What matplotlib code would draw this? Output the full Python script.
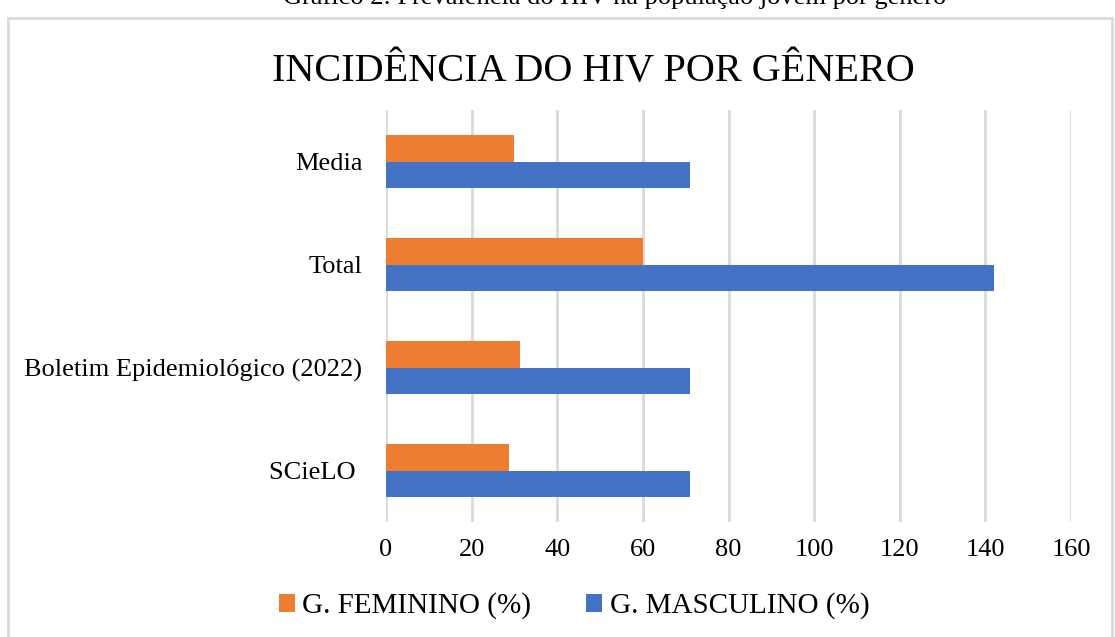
import matplotlib
matplotlib.use("Agg")
import matplotlib.pyplot as plt
import numpy as np
from matplotlib.patches import Rectangle

plt.rcParams['font.family'] = ['Liberation Serif', 'DejaVu Serif']

categories = ["SCieLO ", "Boletim Epidemiológico (2022)", "Total", "Media"]
feminino = [28.7, 31.3, 60, 30]
masculino = [71, 71, 142, 71]
xticks = [0, 20, 40, 60, 80, 100, 120, 140, 160]

orange = "#ED7D31"
blue = "#4472C4"
grid_c = "#D9D9D9"

W, H = 1115, 637
fig = plt.figure(figsize=(W / 100, H / 100), dpi=100)

# chart border
fig.patches.append(Rectangle((8 / W, -0.05), (1104 / W), 1 - 18 / H + 0.05,
                             transform=fig.transFigure, fill=False,
                             edgecolor=grid_c, linewidth=2))

# caption above the chart (cut off at the top, as in the source)
fig.text(615 / W, 1 - 4 / H, "Gráfico 2: Prevalência do HIV na população jovem por gênero",
         ha='center', va='baseline', fontsize=19)

ax = fig.add_axes([386 / W, 1 - 522 / H, 685 / W, 412 / H])
y = np.arange(len(categories))
h = 0.26
ax.barh(y + h / 2, feminino, height=h, color=orange, label="G. FEMININO (%)", zorder=3)
ax.barh(y - h / 2, masculino, height=h, color=blue, label="G. MASCULINO (%)", zorder=3)

ax.set_xlim(0, 160)
ax.set_ylim(-0.5, 3.5)
ax.set_xticks(xticks)
ax.set_yticks(y)
ax.set_yticklabels(categories)
ax.grid(axis='x', color=grid_c, linewidth=2, zorder=0)
for s in ax.spines.values():
    s.set_visible(False)
ax.tick_params(axis='both', length=0, labelsize=19, colors='black')
ax.tick_params(axis='y', pad=17)
ax.tick_params(axis='x', pad=12)

fig.text(593 / W, 1 - 71 / H, "INCIDÊNCIA DO HIV POR GÊNERO", ha='center', va='center',
         fontsize=29)

fig.legend(loc='center', bbox_to_anchor=(574 / W, 1 - 606 / H), ncol=2, frameon=False,
           fontsize=21, handlelength=0.55, handleheight=0.55, handletextpad=0.25,
           columnspacing=1.9)

fig.savefig("out.png", dpi=100)
